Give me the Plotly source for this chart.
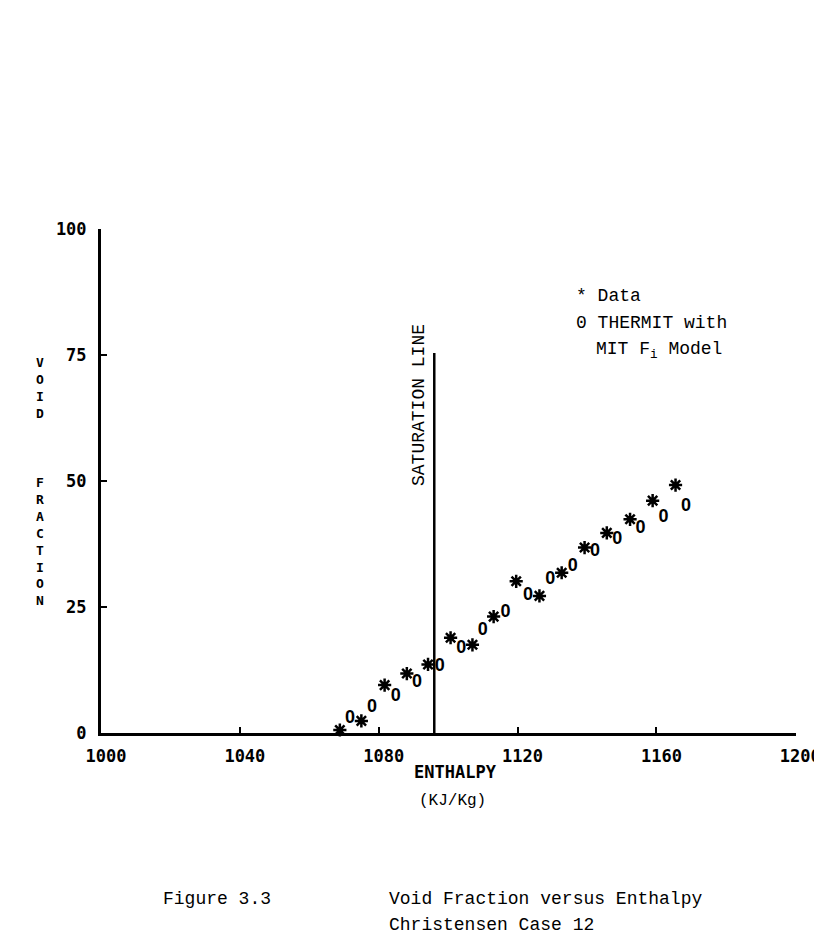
import plotly.graph_objects as go

# ---- data ----
data_enthalpy = [1068.8, 1075.0, 1081.7, 1088.1, 1094.2, 1100.7, 1107.0, 1113.1,
                 1119.6, 1126.3, 1132.7, 1139.3, 1145.7, 1152.4, 1158.9, 1165.5]
data_void = [0.6, 2.4, 9.5, 11.8, 13.6, 18.9, 17.5, 23.1,
             30.1, 27.2, 31.8, 36.8, 39.7, 42.4, 46.1, 49.2]

model_enthalpy = [1071.7, 1078.1, 1084.9, 1091.0, 1097.6, 1103.8, 1110.0, 1116.5,
                  1123.0, 1129.4, 1135.9, 1142.3, 1148.7, 1155.4, 1162.0, 1168.5]
model_void = [2.9, 5.1, 7.3, 10.0, 13.2, 16.7, 20.4, 23.9,
              27.2, 30.4, 33.0, 36.0, 38.3, 40.6, 42.8, 44.9]

saturation_enthalpy = 1096.0
saturation_top = 75.4

x_ticks = [1000, 1040, 1080, 1120, 1160, 1200]
y_ticks = [0, 25, 50, 75, 100]

# ---- layout helpers ----
W, H = 814, 939
L, R, T, B = 101, 18, 229, 206
PW, PH = W - L - R, H - T - B

def fx(px):
    return (px - L) / PW

def fy(py):
    return (H - B - py) / PH

DOT = "DejaVu Sans Mono"
TYPE = "Liberation Mono"

fig = go.Figure()

# saturation line
fig.add_trace(go.Scatter(
    x=[saturation_enthalpy, saturation_enthalpy], y=[0, saturation_top],
    mode="lines", line=dict(color="black", width=2.5),
    hoverinfo="skip", showlegend=False))

# measured data (stars)
fig.add_trace(go.Scatter(
    x=data_enthalpy, y=data_void, mode="markers",
    marker=dict(symbol="asterisk-open", size=11, color="black",
                line=dict(color="black", width=2.5)),
    cliponaxis=False, showlegend=False, name="Data"))

# THERMIT model (0 characters)
fig.add_trace(go.Scatter(
    x=model_enthalpy, y=model_void, mode="text",
    text=["0"] * len(model_enthalpy), textposition="middle center",
    textfont=dict(family="Liberation Sans", size=18, color="black", weight="bold"),
    cliponaxis=False, showlegend=False, name="THERMIT"))

fig.update_xaxes(
    range=[1000, 1200.2], tickvals=x_ticks, ticktext=[str(v) for v in x_ticks],
    showline=True, linecolor="black", linewidth=3,
    ticks="inside", ticklen=6, tickwidth=2, tickcolor="black",
    showgrid=False, zeroline=False, ticklabelstandoff=6, ticklabelshift=5,
    ticklabeloverflow="allow", automargin=False,
    tickfont=dict(family=DOT, size=17, color="black", weight="bold"))
fig.update_yaxes(
    range=[0, 100], tickvals=y_ticks, ticktext=[str(v) for v in y_ticks],
    showline=True, linecolor="black", linewidth=3,
    ticks="inside", ticklen=6, tickwidth=2, tickcolor="black",
    showgrid=False, zeroline=False, ticklabelstandoff=8,
    ticklabeloverflow="allow", automargin=False,
    tickfont=dict(family=DOT, size=17, color="black", weight="bold"))

ann = []

def text(s, px, py, size=18, family=TYPE, xanchor="left", yanchor="middle",
         bold=False, angle=0):
    ann.append(dict(text=s, x=fx(px), y=fy(py), xref="paper", yref="paper",
                    xanchor=xanchor, yanchor=yanchor, showarrow=False,
                    textangle=angle,
                    font=dict(family=family, size=size, color="black",
                              weight="bold" if bold else "normal")))

# vertical stacked axis title
text("<br>".join("VOID"), 40, 353, size=13, family=DOT, xanchor="center",
     yanchor="top", bold=True)
text("<br>".join("FRACTION"), 40, 473, size=13, family=DOT, xanchor="center",
     yanchor="top", bold=True)

# x axis title
text("ENTHALPY", 455, 772, size=17, family=DOT, xanchor="center", bold=True)
text("(KJ/Kg)", 452, 801, size=16, xanchor="center")

# saturation label
text("SATURATION LINE", 419, 405, size=18, xanchor="center", angle=-90)

# legend text
text("* Data", 574, 296)
text("0 THERMIT with", 574, 323)
text("MIT F<sub>i</sub> Model", 594, 350)

# caption
text("Figure 3.3", 161, 899)
text("Void Fraction versus Enthalpy", 387, 899)
text("Christensen Case 12", 387, 925)

fig.update_layout(
    width=W, height=H, autosize=False,
    margin=dict(l=L, r=R, t=T, b=B, pad=0, autoexpand=False),
    paper_bgcolor="white", plot_bgcolor="white",
    annotations=ann, showlegend=False)

fig.write_html("out.html")
